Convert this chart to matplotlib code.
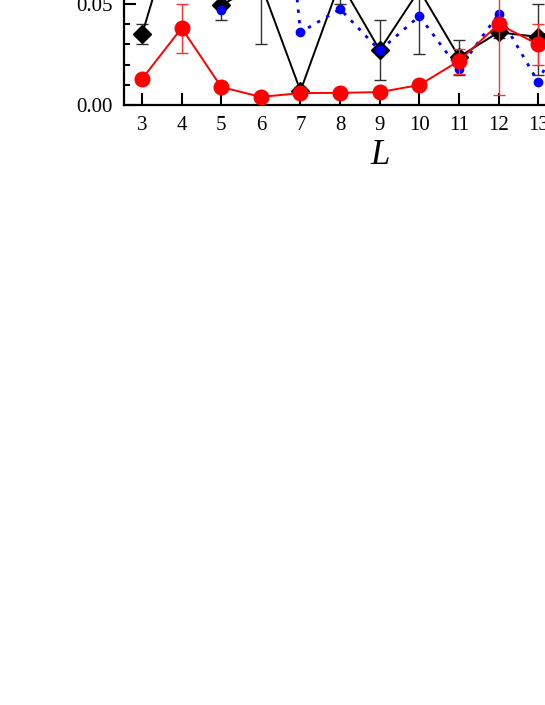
import numpy as np
import matplotlib.pyplot as plt
from matplotlib.ticker import MultipleLocator

plt.rcParams['font.family'] = ['Liberation Serif', 'DejaVu Serif']
plt.rcParams['mathtext.fontset'] = 'custom'
plt.rcParams['mathtext.it'] = 'Liberation Serif:italic'

# ------------------------------------------------
# data (values above the top edge are guesses)
# ------------------------------------------------
L = np.array([3, 4, 5, 6, 7, 8, 9, 10, 11, 12, 13, 14])

black     = np.array([0.035, 0.100, 0.0495, 0.060, 0.007, 0.061, 0.0272, 0.057, 0.0238, 0.036, 0.0337, 0.042])
black_lo  = np.array([0.005, 0.010, 0.0075, 0.030, 0.002, 0.011, 0.0148, 0.032, 0.0088, 0.003, 0.0188, 0.010])
black_hi  = np.array([0.005, 0.010, 0.0010, 0.030, 0.002, 0.011, 0.0148, 0.032, 0.0082, 0.0046, 0.0163, 0.010])

blue      = np.array([np.nan, np.nan, 0.047, 0.230, 0.036, 0.0475, 0.027, 0.044, 0.0178, 0.045, 0.0114, 0.052])

red       = np.array([0.0129, 0.0381, 0.0089, 0.0040, 0.0059, 0.0060, 0.0064, 0.0099, 0.0218, 0.040, 0.030, 0.030])
red_lo    = np.array([0.0, 0.0124, 0.0, 0.0, 0.0, 0.0, 0.0, 0.0020, 0.0065, 0.035, 0.010, 0.0])
red_hi    = np.array([0.0, 0.0119, 0.0, 0.0, 0.0, 0.0, 0.0, 0.0020, 0.0059, 0.035, 0.010, 0.0])

# ------------------------------------------------
# figure: only the lower strip of the axes is inside the canvas
# ------------------------------------------------
fig = plt.figure(figsize=(5.45, 7.05), dpi=100)
ax = fig.add_axes([124 / 545, (705 - 105) / 705, 512 / 545, 202 / 705])

ax.errorbar(L, black, yerr=[black_lo, black_hi], color='black', lw=1.4,
            marker='D', ms=9, mfc='black', mec='black',
            ecolor='#303030', elinewidth=1.0, capsize=4.5, capthick=1.0, zorder=2)
ax.plot(L, blue, color='blue', ls=(0, (1.2, 2.6)), lw=2.0, marker='o', ms=6,
        mfc='blue', mec='blue', zorder=3)
ax.errorbar(L, red, yerr=[red_lo, red_hi], color='red', lw=1.4,
            marker='o', ms=10.5, mfc='red', mec='red',
            ecolor='#ff3030', elinewidth=1.0, capsize=4.5, capthick=1.0, zorder=4)

ax.set_xlim(2.545, 15.47)
ax.set_ylim(0.0, 0.10)
ax.xaxis.set_major_locator(MultipleLocator(1))
ax.yaxis.set_major_locator(MultipleLocator(0.05))
ax.yaxis.set_minor_locator(MultipleLocator(0.01))
ax.yaxis.set_major_formatter(plt.FormatStrFormatter('%.2f'))

for s in ax.spines.values():
    s.set_linewidth(1.6)
ax.tick_params(which='both', direction='in', width=1.5, labelsize=15)
ax.tick_params(which='major', length=8.5, pad=8)
ax.tick_params(which='minor', length=4)
ax.tick_params(axis='x', which='minor', length=0)

ax.set_xlabel('$L$', fontsize=25, labelpad=3)

fig.savefig('out.png', dpi=100)
